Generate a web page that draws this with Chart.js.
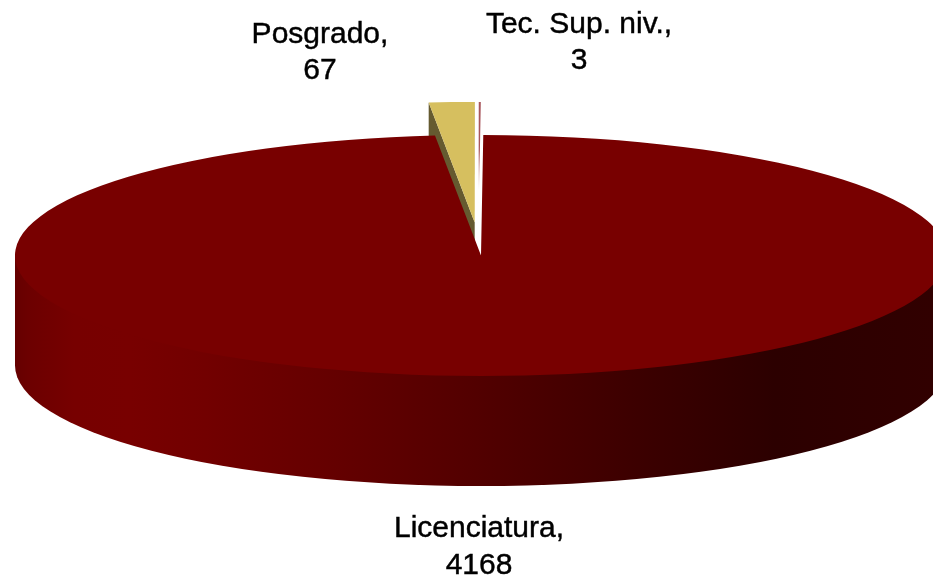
<!DOCTYPE html>
<html><head><meta charset="utf-8">
<style>html,body{margin:0;padding:0;background:#fff}#w{width:933px;height:577px;position:relative;overflow:hidden}</style>
<script src="https://cdn.jsdelivr.net/npm/chart.js@4"></script>
</head><body><div id="w"><canvas id="c" width="933" height="577"></canvas></div>
<script>
const categories = ['Licenciatura', 'Posgrado', 'Tec. Sup. niv.'];
const values = [4168, 67, 3];
const topColors = ['#780000', '#d6bf5f', '#a8565c'];
const faceColors = [null, '#655a30', '#ffffff'];
const explode = [0, 128, 128];
const shiftX = [0, 0, -2.8];
const labelPos = [[479, 537, 574], [320, 42.5, 78.5], [579, 33, 69]];

const RX = 466, RY = 120.5, DEPTH = 110, SQ = RY / RX;

function sliceColor(c) {
  const base = topColors[c.dataIndex];
  const area = c.chart.chartArea;
  if (c.dataIndex !== 2 || !area) return base;
  // the thin slice only shows as a stripe near its outer end
  const cy = (area.top + area.bottom) / 2;
  const g = c.chart.ctx.createLinearGradient(0, cy + (150 - cy) / SQ, 0, cy + (190 - cy) / SQ);
  g.addColorStop(0, base); g.addColorStop(1, '#ffffff');
  return g;
}

const pie3d = {
  id: 'pie3d',
  afterDatasetUpdate(chart) {
    chart.getDatasetMeta(0).data.forEach((a, i) => {
      const mid = (a.startAngle + a.endAngle) / 2;
      a.x += Math.cos(mid) * explode[i] + shiftX[i];
      a.y += Math.sin(mid) * explode[i];
    });
  },
  beforeDatasetDraw(chart) {
    const ctx = chart.ctx, arcs = chart.getDatasetMeta(0).data;
    const cy = arcs[0].y;
    ctx.save();
    ctx.translate(0, cy); ctx.scale(1, SQ); ctx.translate(0, -cy);
    const d = DEPTH / SQ;
    // cut faces of the exploded wedges
    [1, 2].forEach(i => {
      const a = arcs[i], r = a.outerRadius, s = a.startAngle;
      const px = a.x + Math.cos(s) * r, py = a.y + Math.sin(s) * r;
      ctx.beginPath();
      ctx.moveTo(a.x, a.y); ctx.lineTo(px, py); ctx.lineTo(px, py + d); ctx.lineTo(a.x, a.y + d);
      ctx.closePath(); ctx.fillStyle = faceColors[i]; ctx.fill();
    });
    // front wall of the big slice, filled up to the diameter so no seam shows at the rim
    const m = arcs[0], r = m.outerRadius, g = ctx.createLinearGradient(0, 0, chart.width, 0);
    [[0, '#5e0000'], [0.03, '#6c0000'], [0.08, '#770000'], [0.14, '#780000'], [0.22, '#720000'],
     [0.36, '#640000'], [0.51, '#520000'], [0.7, '#3a0000'], [0.83, '#2c0000'], [1, '#310000']]
      .forEach(([o, c]) => g.addColorStop(o, c));
    ctx.beginPath();
    ctx.moveTo(m.x - r, m.y);
    ctx.lineTo(m.x - r, m.y + d);
    ctx.arc(m.x, m.y + d, r, Math.PI, 0, true);
    ctx.lineTo(m.x + r, m.y);
    ctx.closePath(); ctx.fillStyle = g; ctx.fill();
  },
  afterDatasetDraw(chart) { chart.ctx.restore(); },
  afterDraw(chart) {
    const ctx = chart.ctx;
    ctx.save();
    ctx.fillStyle = '#000'; ctx.strokeStyle = '#000'; ctx.lineWidth = 0.45;
    ctx.textAlign = 'center'; ctx.textBaseline = 'alphabetic';
    ctx.font = '30px "Liberation Sans"';
    categories.forEach((n, i) => {
      [[n + ',', labelPos[i][1]], [String(values[i]), labelPos[i][2]]].forEach(([t, y]) => {
        ctx.fillText(t, labelPos[i][0], y);
        ctx.strokeText(t, labelPos[i][0], y);
      });
    });
    ctx.restore();
  }
};

new Chart(document.getElementById('c'), {
  type: 'pie',
  plugins: [pie3d],
  data: { labels: categories, datasets: [{
    data: values, backgroundColor: sliceColor, borderWidth: 0, clip: false,
    radius: RX, rotation: 0.28
  }]},
  options: {
    responsive: false, animation: false,
    layout: { padding: { left: 29, top: 0, bottom: 66 } },
    plugins: { legend: { display: false }, tooltip: { enabled: false } }
  }
});
</script></body></html>
